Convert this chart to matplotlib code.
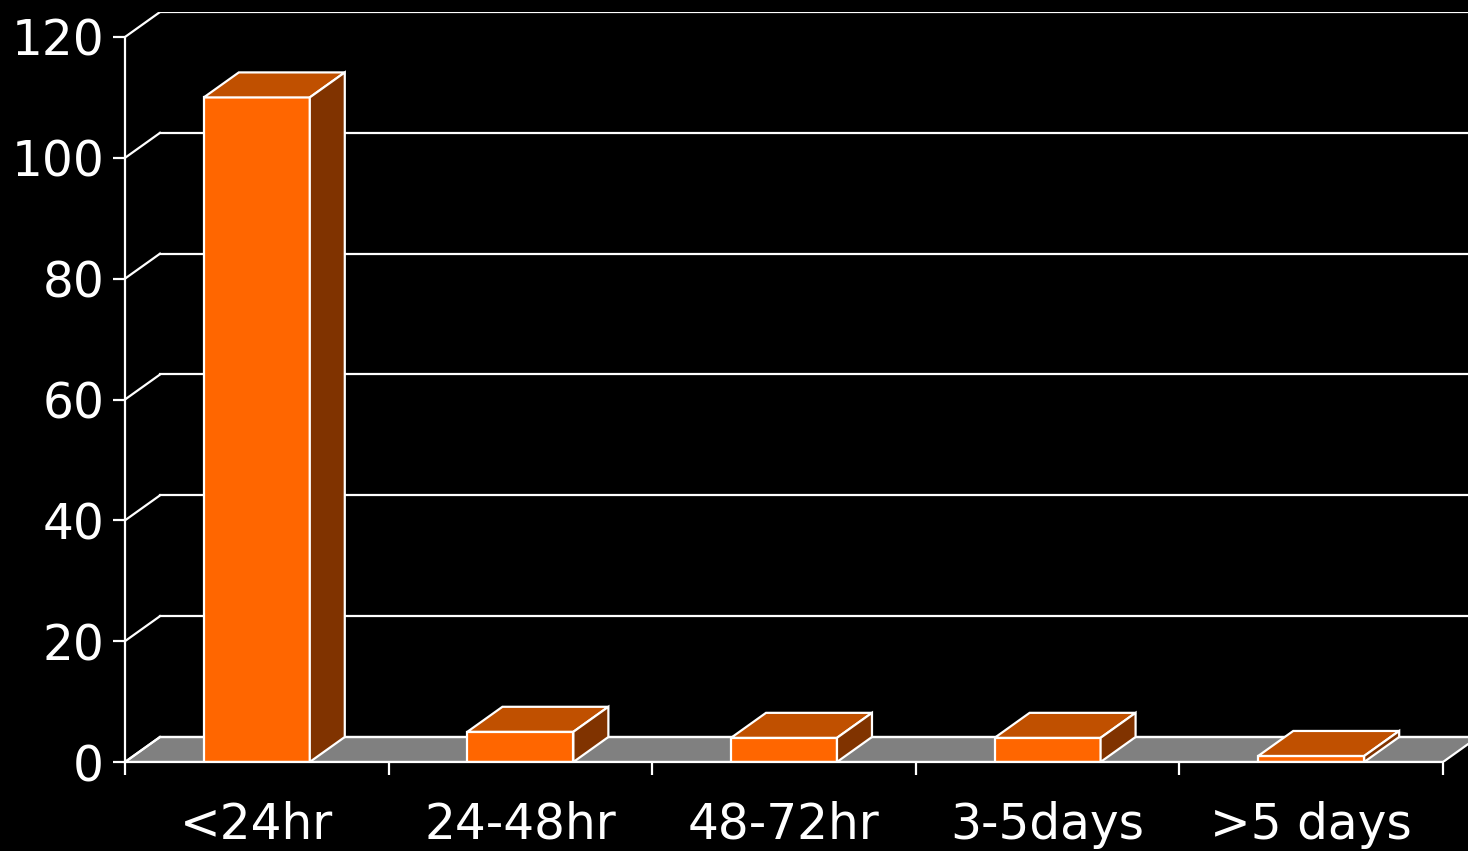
import matplotlib.pyplot as plt
from matplotlib.patches import Polygon

categories = ["<24hr", "24-48hr", "48-72hr", "3-5days", ">5 days"]
counts = [110, 5, 4, 4, 1]
y_ticks = [0, 20, 40, 60, 80, 100, 120]

W, H = 1468, 851
fig = plt.figure(figsize=(W / 100, H / 100), dpi=100, facecolor="black")

# front plane in pixels, plus the 3d depth offset
x0_px, x1_px = 125, 1443
y0_px, y1_px = 762, 37
dx_px, dy_px = 35, 25
n = len(categories)
ymax = 120
cat_px = (x1_px - x0_px) / n
unit_px = (y0_px - y1_px) / ymax
dx = dx_px / cat_px
dy = dy_px / unit_px

ax = fig.add_axes([x0_px / W, (H - y0_px) / H,
                   (x1_px - x0_px + dx_px) / W, (y0_px - y1_px + dy_px) / H])
ax.set_facecolor("black")
ax.set_xlim(0, n + dx)
ax.set_ylim(0, ymax + dy)

lw = 1.6
# floor
ax.add_patch(Polygon([(0, 0), (dx, dy), (n + dx, dy), (n, 0)], closed=True,
                     facecolor="#808080", edgecolor="white", lw=lw, zorder=1))

# back wall gridlines + left wall diagonals
for v in y_ticks:
    ax.plot([0, dx], [v, v + dy], color="white", lw=lw, zorder=1)
    ax.plot([dx, n + dx], [v + dy, v + dy], color="white", lw=lw, zorder=1)

# bars: front face, top and side
bw = 0.402
xs = [i + 0.5 for i in range(n)]
ax.bar(xs, counts, width=bw, color="#FF6600", edgecolor="white", lw=lw, zorder=3)
for x, v in zip(xs, counts):
    l, r = x - bw / 2, x + bw / 2
    ax.add_patch(Polygon([(l, v), (l + dx, v + dy), (r + dx, v + dy), (r, v)],
                         closed=True, facecolor="#C05000", edgecolor="white", lw=lw, zorder=3))
    ax.add_patch(Polygon([(r, 0), (r, v), (r + dx, v + dy), (r + dx, dy)],
                         closed=True, facecolor="#803300", edgecolor="white", lw=lw, zorder=3))

for s in ["top", "right"]:
    ax.spines[s].set_visible(False)
ax.spines["left"].set_bounds(0, ymax)
ax.spines["bottom"].set_bounds(0, n)
for s in ["left", "bottom"]:
    ax.spines[s].set_color("white")
    ax.spines[s].set_linewidth(lw)
    ax.spines[s].set_zorder(4)

ax.set_yticks(y_ticks)
ax.set_yticklabels([str(v) for v in y_ticks])
ax.tick_params(axis="y", colors="white", labelsize=35, length=9, width=lw, pad=6)

ax.set_xticks(xs)
ax.set_xticklabels(categories)
ax.set_xticks(range(n + 1), minor=True)
ax.tick_params(axis="x", which="major", colors="white", labelsize=35, length=0, pad=28)
ax.tick_params(axis="x", which="minor", colors="white", length=9, width=lw)

fig.savefig("out.png", dpi=100, facecolor="black")
